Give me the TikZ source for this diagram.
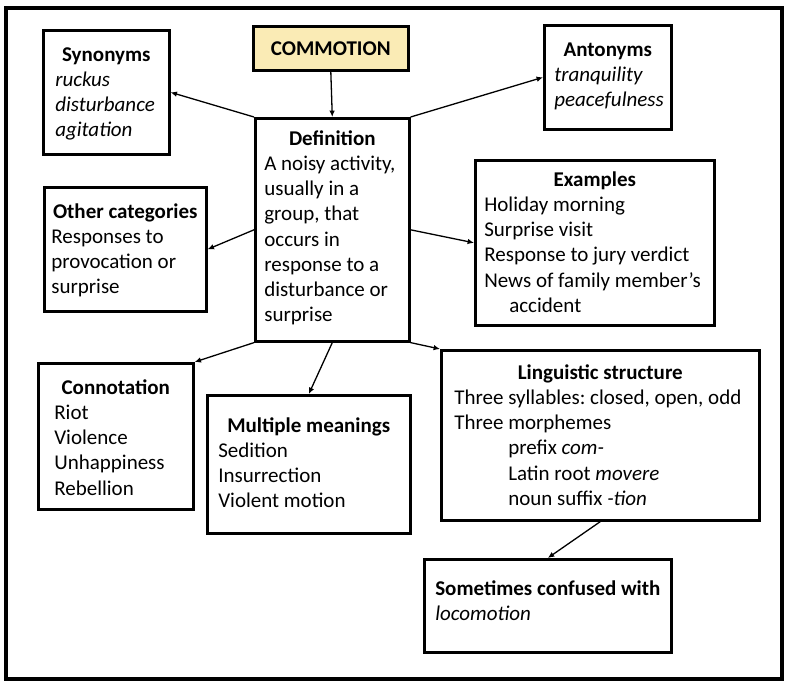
\documentclass[tikz,border=0pt]{standalone}
\usepackage{fontspec}
\setmainfont{Carlito}
\usepackage{tikz}
\usetikzlibrary{arrows.meta}
\definecolor{commfill}{rgb}{0.98,0.92,0.71}
\newlength{\pxu}
\setlength{\pxu}{0.5pt}
\frenchspacing
\newcommand{\boxtext}[4]{\parbox[c][#2\pxu][t]{#1\pxu}{\raggedright\rule{0pt}{#3\pxu}#4}}
\newcommand{\ttl}[1]{\hfill\mbox{\bfseries #1}\hfill\null\\}

\begin{document}
\begin{tikzpicture}[x=0.5pt,y=-0.5pt,>={Latex[length=3.2pt,width=2.8pt]},
  cbox/.style={draw,line width=1.3pt,anchor=north west,inner ysep=0pt,font=\fontsize{10.5}{12.6}\selectfont},
  con/.style={->,line width=0.65pt}]
\useasboundingbox (0,0) rectangle (787,682);
\draw[line width=1.6pt] (6,8) rectangle (782,679);
\node[cbox,fill=commfill,minimum width=77.5pt,minimum height=22pt,inner sep=0pt] (comm) at (252,25) {\bfseries COMMOTION};
\node[cbox,inner xsep=6pt] (syn) at (42,29) {\boxtext{102}{124}{31}{\ttl{Synonyms}\textit{ruckus}\\\textit{disturbance}\\\textit{agitation}}};
\node[cbox,inner xsep=4.5pt] (def) at (254,117) {\boxtext{136}{223}{27}{\ttl{Definition}A noisy activity,\\usually in a\\group, that\\occurs in\\response to a\\disturbance or\\surprise}};
\node[cbox,inner xsep=3.5pt] (other) at (43,186) {\boxtext{148}{124}{31}{\ttl{Other categories}Responses to\\provocation or\\surprise}};
\node[cbox,inner xsep=5pt] (ant) at (543,24) {\boxtext{107}{104}{31}{\ttl{Antonyms}\textit{tranquility}\\\textit{peacefulness}}};
\node[cbox,inner xsep=4.5pt] (ex) at (474,159) {\boxtext{221}{165}{26}{\ttl{Examples}Holiday morning\\Surprise visit\\Response to jury verdict\\News of family member’s\\\hspace*{25\pxu}accident}};
\node[cbox,inner xsep=8pt] (conn) at (37,362) {\boxtext{123}{146}{31}{\ttl{Connotation}Riot\\Violence\\Unhappiness\\Rebellion}};
\node[cbox,inner xsep=5.5pt] (mm) at (206,394) {\boxtext{181}{138}{37}{\ttl{Multiple meanings}Sedition\\Insurrection\\Violent motion}};
\node[cbox,inner xsep=6.5pt] (ling) at (440,349) {\boxtext{292}{170}{29}{\ttl{Linguistic structure}Three syllables: closed, open, odd\\Three morphemes\\\hspace*{54\pxu}prefix \textit{com-}\\\hspace*{54\pxu}Latin root \textit{movere}\\\hspace*{54\pxu}noun suffix \textit{-tion}}};
\node[cbox,inner xsep=5.5pt] (some) at (423,558) {\boxtext{225}{93}{36}{\mbox{\bfseries Sometimes confused with}\\\textit{locomotion}}};
\draw[con] (comm.south) -- (def.north);
\draw[con] (def.north west) -- (syn.east);
\draw[con] (def.west) -- (other.east);
\draw[con] (def.north east) -- (ant.west);
\draw[con] (def.east) -- (ex.west);
\draw[con] (def.south west) -- (conn.north east);
\draw[con] (def.south) -- (mm.north);
\draw[con] (def.south east) -- (ling.north west);
\draw[con] (ling.south) -- (some.north);
\end{tikzpicture}
\end{document}
